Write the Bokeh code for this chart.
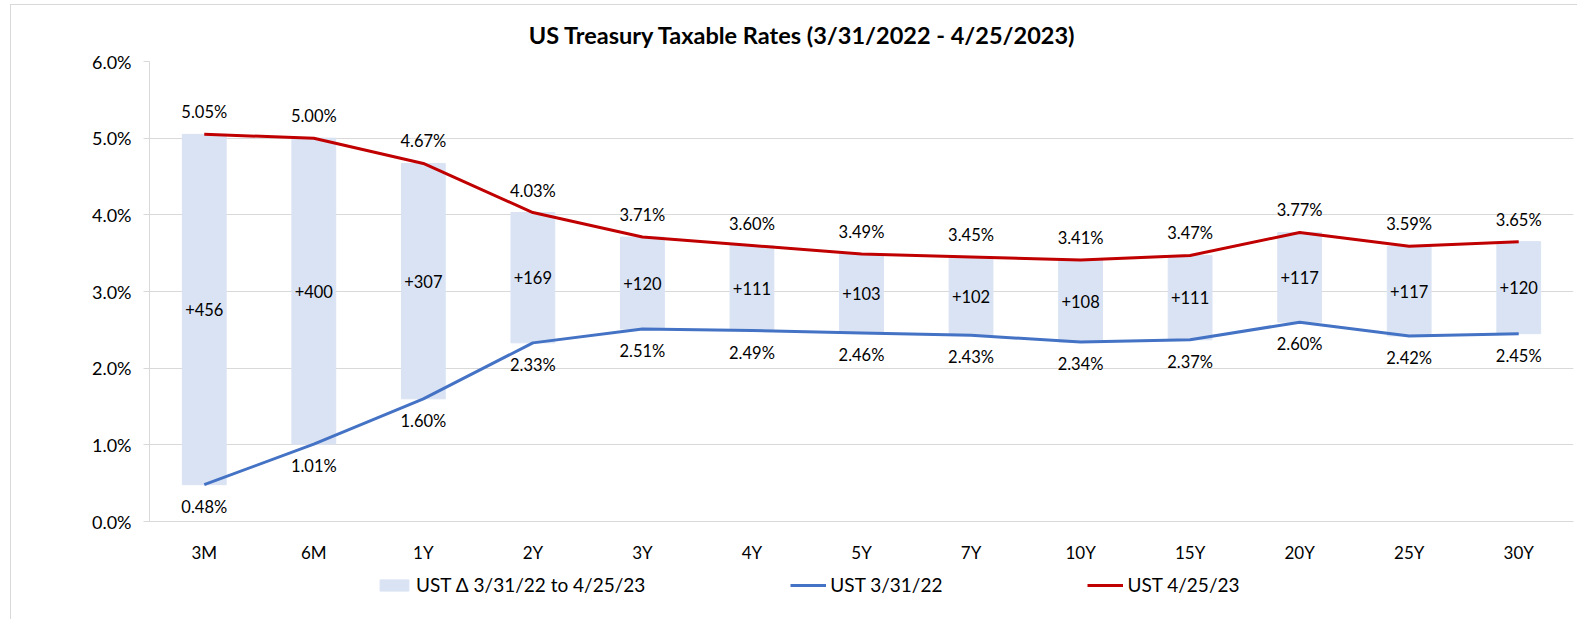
from bokeh.plotting import figure
from bokeh.layouts import column
from bokeh.models import (ColumnDataSource, Range1d, FactorRange, FixedTicker,
                          PrintfTickFormatter, LabelSet, Legend, LegendItem)
from bokeh.core.properties import value
from bokeh.embed import file_html
from bokeh.resources import INLINE

tenors = ["3M", "6M", "1Y", "2Y", "3Y", "4Y", "5Y", "7Y", "10Y", "15Y", "20Y", "25Y", "30Y"]
ust_2022 = [0.48, 1.01, 1.60, 2.33, 2.51, 2.49, 2.46, 2.43, 2.34, 2.37, 2.60, 2.42, 2.45]
ust_2023 = [5.05, 5.00, 4.67, 4.03, 3.71, 3.60, 3.49, 3.45, 3.41, 3.47, 3.77, 3.59, 3.65]
change_bp = [456, 400, 307, 169, 120, 111, 103, 102, 108, 111, 117, 117, 120]
y_ticks = [0, 1, 2, 3, 4, 5, 6]
series_names = ["UST \u0394 3/31/22 to 4/25/23", "UST 3/31/22", "UST 4/25/23"]

FONT = "Lato"
BAR = "#DAE3F3"
BLUE = "#4472C4"
RED = "#C00000"
GRID = "#d9d9d9"
BORDER = "1px solid #d9d9d9"

src = ColumnDataSource(dict(
    x=tenors,
    old=ust_2022,
    new=ust_2023,
    mid=[(a + b) / 2 for a, b in zip(ust_2022, ust_2023)],
    old_txt=[f"{v:.2f}%" for v in ust_2022],
    new_txt=[f"{v:.2f}%" for v in ust_2023],
    chg_txt=[f"+{v}" for v in change_bp],
))

x_range = FactorRange(*tenors, range_padding=0)
p = figure(x_range=x_range, y_range=Range1d(0, 6),
           width=1567, height=560, output_backend="svg", toolbar_location=None,
           min_border_left=138, min_border_right=5, min_border_top=55, min_border_bottom=43)
p.outline_line_color = None
p.styles = {"margin-left": "10px", "margin-top": "4px",
            "border-left": BORDER, "border-top": BORDER}

p.title.text = "US Treasury Taxable Rates (3/31/2022 - 4/25/2023)"
p.title.text_font = FONT
p.title.text_font_size = "23.5px"
p.title.text_font_style = "bold"
p.title.text_color = "#000000"
p.title.align = "right"
p.title.offset = 497
p.title.standoff = 26

p.vbar(x="x", bottom="old", top="new", width=0.4, color=BAR, source=src)
p.line(x="x", y="old", color=BLUE, line_width=3, source=src)
p.line(x="x", y="new", color=RED, line_width=3, source=src)

common = dict(source=src, x="x", text_font=value(FONT), text_font_size="16.5px",
              text_align="center", text_baseline="middle", text_color="#000000")
p.add_layout(LabelSet(y="new", text="new_txt", y_offset=22, **common))
p.add_layout(LabelSet(y="old", text="old_txt", y_offset=-22, **common))
p.add_layout(LabelSet(y="mid", text="chg_txt", **common))

# axes
p.yaxis.ticker = FixedTicker(ticks=y_ticks)
p.yaxis.formatter = PrintfTickFormatter(format="%.1f%%")
p.yaxis.axis_line_color = GRID
p.yaxis.major_tick_line_color = GRID
p.yaxis.major_tick_out = 6
p.yaxis.major_tick_in = 0
p.yaxis.minor_tick_line_color = None
p.yaxis.major_label_standoff = 12
p.xaxis.axis_line_color = GRID
p.xaxis.major_tick_line_color = None
p.xaxis.minor_tick_line_color = None
p.xaxis.major_label_standoff = 14
for ax in (p.xaxis[0], p.yaxis[0]):
    ax.major_label_text_font = FONT
    ax.major_label_text_color = "#000000"
p.yaxis.major_label_text_font_size = "18px"
p.xaxis.major_label_text_font_size = "17px"

p.xgrid.grid_line_color = None
p.ygrid.grid_line_color = GRID
p.ygrid.ticker = FixedTicker(ticks=y_ticks)

# legend strip below the chart (same series, drawn outside its visible range)
pl = figure(width=1567, height=55, x_range=x_range, y_range=Range1d(100, 101),
            output_backend="svg", toolbar_location=None,
            x_axis_location=None, y_axis_location=None, min_border=0)
pl.outline_line_color = None
pl.grid.visible = False
pl.styles = {"margin-left": "10px", "border-left": BORDER}
g_bar = pl.vbar(x="x", bottom="old", top="new", width=0.4, color=BAR, source=src)
g_old = pl.line(x="x", y="old", color=BLUE, line_width=3, source=src)
g_new = pl.line(x="x", y="new", color=RED, line_width=3, source=src)

legend = Legend(items=[
    LegendItem(label=series_names[0], renderers=[g_bar]),
    LegendItem(label=series_names[1], renderers=[g_old]),
    LegendItem(label=series_names[2], renderers=[g_new]),
], orientation="horizontal", location=(227, 23), padding=0, margin=0,
    spacing=145, glyph_width=36, glyph_height=14, label_standoff=4,
    border_line_color=None, background_fill_alpha=0,
    label_text_font=FONT, label_text_font_size="19px", label_text_color="#000000")
pl.add_layout(legend, "center")

open("out.html", "w").write(file_html(column(p, pl, spacing=0), INLINE))
